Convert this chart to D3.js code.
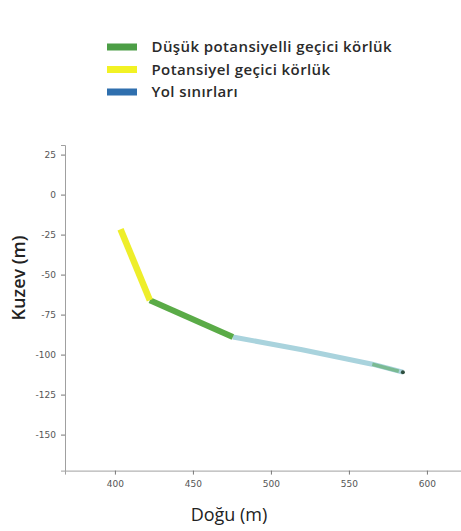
<!DOCTYPE html>
<html>
<head>
<meta charset="utf-8">
<script src="https://cdn.jsdelivr.net/npm/d3@7"></script>
<style>
  body { margin: 0; background: #fff; }
  svg { display: block; }
</style>
</head>
<body>
<svg id="chart" width="461" height="531"></svg>
<script>
// Route trace (east, north in metres), split into classified segments
const yellowSegment = [[403.6, -21.6], [422.4, -66]];
const greenSegment = [[422.4, -66], [475.6, -89]];
const boundarySegment = [[475.6, -89], [520, -97], [565, -106], [584.6, -111]];
const greenTail = [[565, -106], [582, -110.4]];
const endPoint = [584.6, -111];

const xTicks = [400, 450, 500, 550, 600];
const yTicks = [25, 0, -25, -50, -75, -100, -125, -150];

const legendLabels = ["Düşük potansiyelli geçici körlük", "Potansiyel geçici körlük", "Yol sınırları"];
const legendColors = ["#4c9e46", "#f2f224", "#2f6fae"];

const svg = d3.select("#chart");

const x = d3.scaleLinear().domain([368, 624]).range([65, 65 + (624 - 368) * 1.56]);
const y = d3.scaleLinear().domain([31, -172.5]).range([145, 145 + 203.5 * 1.6]);

const axisColor = "#a0a0a0";
const tickTextColor = "#555";

// Axes
const gx = svg.append("g").attr("transform", `translate(0,${y(-172.5)})`)
  .call(d3.axisBottom(x).tickValues(xTicks).tickSize(4).tickPadding(6).tickFormat(d3.format("d")));
const gy = svg.append("g").attr("transform", `translate(${x(368)},0)`)
  .call(d3.axisLeft(y).tickValues(yTicks).tickSize(4).tickPadding(5).tickFormat(d => d < 0 ? "-" + Math.abs(d) : d));
[gx, gy].forEach(g => {
  g.select(".domain").attr("stroke", axisColor).attr("stroke-width", 1);
  g.selectAll(".tick line").attr("stroke", "#777");
  g.selectAll(".tick text").attr("fill", tickTextColor)
    .style("font-family", "'DejaVu Sans', sans-serif").style("font-size", "9px");
});

// Axis titles
svg.append("text").attr("x", 229).attr("y", 521)
  .attr("text-anchor", "middle").attr("fill", "#222")
  .style("font-family", "'Open Sans', sans-serif").style("font-size", "18px")
  .text("Doğu (m)");
svg.append("text").attr("transform", "translate(25,278) rotate(-90)")
  .attr("text-anchor", "middle").attr("fill", "#222")
  .style("font-family", "'Open Sans', sans-serif").style("font-size", "18px").style("font-weight", "600")
  .text("Kuzev (m)");

// Route segments
const line = d3.line().x(d => x(d[0])).y(d => y(d[1]));
svg.append("path").datum(boundarySegment).attr("d", line)
  .attr("fill", "none").attr("stroke", "#a9d3dd").attr("stroke-width", 5).attr("stroke-linecap", "butt");
svg.append("path").datum(greenTail).attr("d", line)
  .attr("fill", "none").attr("stroke", "#6bb27a").attr("stroke-width", 3.5).attr("stroke-opacity", 0.75);
svg.append("path").datum(greenSegment).attr("d", line)
  .attr("fill", "none").attr("stroke", "#5aab47").attr("stroke-width", 6).attr("stroke-linecap", "butt");
svg.append("path").datum(yellowSegment).attr("d", line)
  .attr("fill", "none").attr("stroke", "#eeee2a").attr("stroke-width", 6.5).attr("stroke-linecap", "butt");
svg.append("circle").attr("cx", x(endPoint[0])).attr("cy", y(endPoint[1])).attr("r", 2).attr("fill", "#2f4f3f");

// Legend
const legend = svg.append("g");
legendLabels.forEach((label, i) => {
  const base = 52 + i * 22.5;
  legend.append("rect").attr("x", 107).attr("y", base - 8.5).attr("width", 30).attr("height", 7).attr("fill", legendColors[i]);
  legend.append("text").attr("x", 151.5).attr("y", base).attr("fill", "#2a2a2a")
    .style("font-family", "'Open Sans', sans-serif").style("font-size", "15px")
    .style("font-weight", "600").style("letter-spacing", "0.4px")
    .text(label);
});
</script>
</body>
</html>
